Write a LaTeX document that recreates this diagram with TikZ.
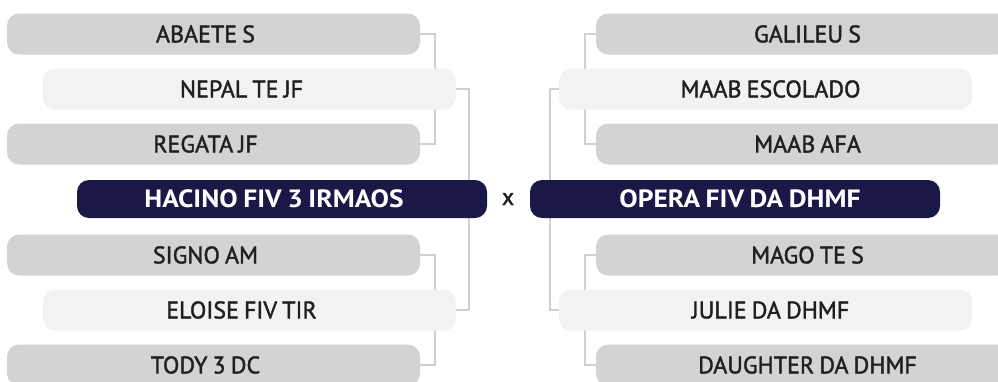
\documentclass[tikz,border=0pt]{standalone}
\usepackage{fontspec}
\setmainfont{PT Sans}[WordSpace=0.8]
\newfontfamily\medfont{PT Sans}[FakeBold=1.6, WordSpace=0.8]
\newfontfamily\heavyfont{PT Sans Bold}[FakeStretch=1.1, WordSpace=0.8]
\usetikzlibrary{backgrounds}
\definecolor{boxgrey}{HTML}{D1D3D4}
\definecolor{boxlight}{HTML}{F1F2F2}
\definecolor{navy}{HTML}{1A1847}
\definecolor{ink}{HTML}{231F20}
\definecolor{linkgrey}{HTML}{CFD0D1}
\begin{document}
\begin{tikzpicture}[x=1pt,y=-1pt,
   every node/.style={font=\medfont\fontsize{24}{28}\selectfont, text=ink},
   horse/.style={rounded corners=12pt, minimum width=413pt, minimum height=41pt, inner sep=0pt},
   grey/.style={horse, fill=boxgrey},
   light/.style={horse, fill=boxlight},
   final/.style={horse, fill=navy, minimum width=410pt, minimum height=38pt,
                 text=white, font=\heavyfont\fontsize{25}{28}\selectfont},
   westside/.style={execute at end node=\hspace{16pt}},
   eastside/.style={execute at begin node=\hspace{10pt}},
   link/.style={draw=linkgrey, line width=2pt}]

\useasboundingbox (0,0) rectangle (998,381);

% left side
\node[grey,westside]  (abaete) at (213.5,34)  {ABAETE S};
\node[light,westside] (nepal)  at (249.5,89)  {NEPAL TE JF};
\node[grey,westside]  (regata) at (213.5,144) {REGATA JF};
\node[final,westside] (hacino) at (282,199)   {HACINO FIV 3 IRMAOS};
\node[grey,westside]  (signo)  at (213.5,255) {SIGNO AM};
\node[light,westside] (eloise) at (249.5,310) {ELOISE FIV TIR};
\node[grey,westside]  (tody)   at (213.5,365) {TODY 3 DC};

\node (versus) at (508,199) {x};

% right side
\node[grey,eastside]  (galileu)  at (802.5,34)  {GALILEU S};
\node[light,eastside] (escolado) at (765.5,89)  {MAAB ESCOLADO};
\node[grey,eastside]  (afa)      at (802.5,144) {MAAB AFA};
\node[final,eastside] (opera)    at (735,199)   {OPERA FIV DA DHMF};
\node[grey,eastside]  (mago)     at (802.5,255) {MAGO TE S};
\node[light,eastside] (julie)    at (765.5,310) {JULIE DA DHMF};
\node[grey,eastside]  (daughter) at (802.5,365) {DAUGHTER DA DHMF};

\begin{scope}[on background layer]
  \draw[link] (abaete.east) -- ++(15,0) |- (regata.east);
  \draw[link] (nepal.east)  -- ++(13,0) |- (eloise.east);
  \draw[link] (signo.east)  -- ++(15,0) |- (tody.east);
  \draw[link] (galileu.west)  -- ++(-11,0) |- (afa.west);
  \draw[link] (escolado.west) -- ++(-9,0)  |- (julie.west);
  \draw[link] (mago.west)     -- ++(-11,0) |- (daughter.west);
\end{scope}

\end{tikzpicture}
\end{document}
